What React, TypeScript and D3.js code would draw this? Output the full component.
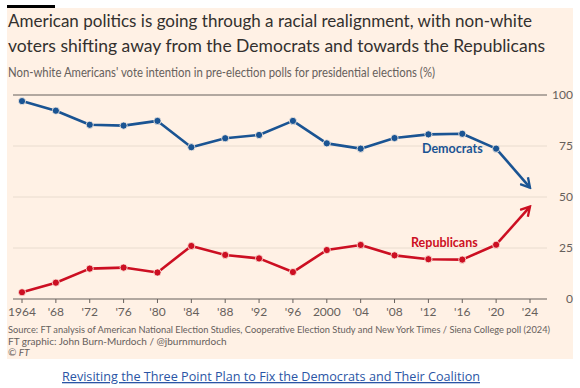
import React from 'react';
import * as d3 from 'd3';

// years of presidential elections
const years = [1964, 1968, 1972, 1976, 1980, 1984, 1988, 1992, 1996, 2000, 2004, 2008, 2012, 2016, 2020, 2024];
const yearLabels = ['1964', "'68", "'72", "'76", "'80", "'84", "'88", "'92", "'96", '2000', "'04", "'08", "'12", "'16", "'20", "'24"];
// non-white vote intention (%)
const democrats = [97, 92.3, 85.4, 85, 87.3, 74.4, 78.8, 80.4, 87.3, 76.3, 73.7, 78.9, 80.7, 81, 73.7, 54.6];
const republicans = [3.3, 8, 14.9, 15.4, 13, 26, 21.6, 19.9, 13.2, 24, 26.5, 21.4, 19.5, 19.3, 26.6, 45.3];
const yTicks = [0, 25, 50, 75, 100];

const BG = '#fff1e5';
const BLUE = '#1a5493';
const RED = '#cc0f22';
const FONT = 'Lato, "Open Sans", sans-serif';

export default function App() {
  const x = d3.scaleLinear().domain([1964, 2024]).range([22, 530]);
  const y = d3.scaleLinear().domain([0, 100]).range([299, 95]);

  const line = d3.line<number>()
    .x((_, i) => x(years[i]))
    .y(d => y(d));

  const series = [
    { name: 'Democrats', values: democrats, color: BLUE, id: 'arrDem' },
    { name: 'Republicans', values: republicans, color: RED, id: 'arrRep' },
  ];

  return (
    <svg width={580} height={388} style={{ position: 'absolute', left: 0, top: 0 }} fontFamily={FONT}>
      <defs>
        {series.map(s => (
          <marker key={s.id} id={s.id} viewBox="0 0 10 10" refX={8.5} refY={5}
            markerWidth={5} markerHeight={5} orient="auto" markerUnits="strokeWidth">
            <path d="M1.5,1 L8.5,5 L1.5,9" fill="none" stroke={s.color} strokeWidth={1.8} strokeLinejoin="miter" />
          </marker>
        ))}
      </defs>
      <rect x={0} y={0} width={580} height={388} fill="#fff" />
      <rect x={7} y={8} width={566} height={351} fill={BG} />
      <rect x={7} y={5} width={48} height={3} fill="#000" />

      {/* titles */}
      <text x={8} y={27} fontSize={18} fill="#33302e" textLength={524} lengthAdjust="spacingAndGlyphs">
        American politics is going through a racial realignment, with non-white
      </text>
      <text x={8} y={52} fontSize={18} fill="#33302e" textLength={537} lengthAdjust="spacingAndGlyphs">
        voters shifting away from the Democrats and towards the Republicans
      </text>
      <text x={8} y={77} fontSize={12.5} fill="#66605c" textLength={427} lengthAdjust="spacingAndGlyphs">
        Non-white Americans' vote intention in pre-election polls for presidential elections (%)
      </text>

      {/* gridlines and y axis */}
      {yTicks.map(t => (
        <g key={t}>
          <line x1={13} x2={547} y1={y(t)} y2={y(t)}
            stroke={t === 0 || t === 100 ? '#66605c' : '#e9dccf'} strokeWidth={t === 0 || t === 100 ? 1.2 : 1} />
          <text x={573} y={y(t) + 4} fontSize={12} fill="#66605c" textAnchor="end">{t}</text>
        </g>
      ))}

      {/* x axis */}
      {years.map((yr, i) => (
        <g key={yr}>
          <line x1={x(yr)} x2={x(yr)} y1={y(0)} y2={y(0) + 4} stroke="#66605c" />
          <text x={x(yr)} y={316} fontSize={12} fill="#66605c" textAnchor="middle">{yearLabels[i]}</text>
        </g>
      ))}

      {/* lines */}
      {series.map(s => (
        <g key={s.name}>
          <path d={line(s.values.slice(0, -1)) || ''} fill="none" stroke={s.color} strokeWidth={2.6} strokeLinejoin="round" />
          <path d={`M${x(years[years.length - 2])},${y(s.values[s.values.length - 2])}L${x(years[years.length - 1])},${y(s.values[s.values.length - 1])}`}
            fill="none" stroke={s.color} strokeWidth={2.6} markerEnd={`url(#${s.id})`} />
          {s.values.slice(0, -1).map((v, i) => (
            <circle key={i} cx={x(years[i])} cy={y(v)} r={3.6} fill={s.color} stroke={BG} strokeWidth={0.8} />
          ))}
        </g>
      ))}

      <text x={422} y={153} fontSize={12.5} fontWeight="bold" fill={BLUE}>Democrats</text>
      <text x={411} y={247} fontSize={12.5} fontWeight="bold" fill={RED}>Republicans</text>

      {/* footer */}
      <text x={8} y={333} fontSize={9.2} fill="#66605c" textLength={542} lengthAdjust="spacingAndGlyphs">
        Source: FT analysis of American National Election Studies, Cooperative Election Study and New York Times / Siena College poll (2024)
      </text>
      <text x={8} y={345} fontSize={10} fill="#66605c">FT graphic: John Burn-Murdoch / @jburnmurdoch</text>
      <text x={8} y={356} fontSize={10} fill="#66605c" fontStyle="italic">© FT</text>

      <text x={62} y={381} fontSize={13} fill="#2a55a5" textDecoration="underline" textLength={418} lengthAdjust="spacingAndGlyphs"
        fontFamily='"Open Sans", sans-serif'>
        Revisiting the Three Point Plan to Fix the Democrats and Their Coalition
      </text>
    </svg>
  );
}
